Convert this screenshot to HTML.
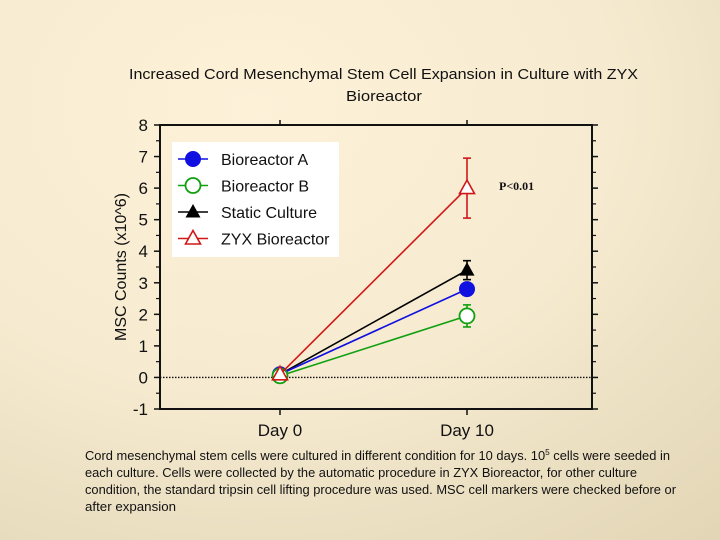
<!DOCTYPE html>
<html><head><meta charset="utf-8"><style>
html,body{margin:0;padding:0;width:720px;height:540px;overflow:hidden}
body{background:radial-gradient(ellipse 900px 700px at 35% 20%,#fdf1d8 0%,#f6ead0 40%,#e2d6b6 80%,#d6c9a6 100%);font-family:"Liberation Sans",sans-serif}
svg{position:absolute;left:0;top:0}
</style></head><body>
<svg id="chart" width="720" height="540">
<g font-family="Liberation Sans, sans-serif" font-size="15" fill="#111">
<text x="129" y="79" textLength="509" lengthAdjust="spacingAndGlyphs">Increased Cord Mesenchymal Stem Cell Expansion in Culture with ZYX</text>
<text x="384" y="101" text-anchor="middle" textLength="76" lengthAdjust="spacingAndGlyphs">Bioreactor</text>
</g>
<g font-size="12.5" fill="#111">
<text x="85" y="460" textLength="585" lengthAdjust="spacingAndGlyphs">Cord mesenchymal stem cells were cultured in different condition for 10 days. 10<tspan font-size="8" dy="-5">5</tspan><tspan dy="5"> cells were seeded in</tspan></text>
<text x="85" y="477" textLength="552" lengthAdjust="spacingAndGlyphs">each culture. Cells were collected by the automatic procedure in ZYX Bioreactor, for other culture</text>
<text x="85" y="494" textLength="591" lengthAdjust="spacingAndGlyphs">condition, the standard tripsin cell lifting procedure was used. MSC cell markers were checked before or</text>
<text x="85" y="511" textLength="91" lengthAdjust="spacingAndGlyphs">after  expansion</text>
</g>
<g id="plot"></g>
</svg>
<script>
const categories=["Day 0","Day 10"];
const seriesNames=["Bioreactor A","Bioreactor B","Static Culture","ZYX Bioreactor"];
const valuesA=[0.1,2.8];
const valuesB=[0.05,1.95];
const valuesStatic=[0.1,3.4];
const valuesZYX=[0.1,6.0];
const errA=[0,0];
const errB=[0,0.35];
const errStatic=[0,0.3];
const errZYX=[0,0.95];
const yTicks=[-1,0,1,2,3,4,5,6,7,8];

const L=160,R=592,T=125,B=409,ymin=-1,ymax=8;
const xPos=[280,467];
const x=i=>xPos[i];
const y=v=>B-(v-ymin)/(ymax-ymin)*(B-T);
const NS="http://www.w3.org/2000/svg";
const plot=document.getElementById('plot');
function mk(tag,attrs,parent){const e=document.createElementNS(NS,tag);for(const k in attrs)e.setAttribute(k,attrs[k]);(parent||plot).appendChild(e);return e;}

const frame=mk('rect',{x:L,y:T,width:R-L,height:B-T,fill:'none',stroke:'#111','stroke-width':2});


const zl=mk('line',{x1:L,x2:R,y1:y(0),y2:y(0),stroke:'#111','stroke-width':1.3,'stroke-dasharray':'1.5,1.5'});



yTicks.forEach(t=>{
  const yy=y(t);
  mk('line',{x1:L-6,x2:L,y1:yy,y2:yy,stroke:'#111','stroke-width':1.5});
  mk('line',{x1:R,x2:R+6,y1:yy,y2:yy,stroke:'#111','stroke-width':1.5});
  if(t<ymax){const ym=y(t+0.5);
    mk('line',{x1:L-4,x2:L,y1:ym,y2:ym,stroke:'#111','stroke-width':1.2});
    mk('line',{x1:R,x2:R+4,y1:ym,y2:ym,stroke:'#111','stroke-width':1.2});}
  const lbl=mk('text',{x:L-12,y:yy+6,'text-anchor':'end','font-size':17,fill:'#111'});
  lbl.textContent=t;
  
  
});
categories.forEach((c,i)=>{
  mk('line',{x1:x(i),x2:x(i),y1:B,y2:B+6,stroke:'#111','stroke-width':1.5});
  mk('line',{x1:x(i),x2:x(i),y1:T-5,y2:T,stroke:'#111','stroke-width':1.5});
  const lbl=mk('text',{x:x(i),y:B+27,'text-anchor':'middle','font-size':17,fill:'#111'});
  lbl.textContent=c;
  
  
});
const yt=mk('text',{x:0,y:0,transform:'translate(126,'+((T+B)/2)+') rotate(-90)','text-anchor':'middle','font-size':16,fill:'#111'});
yt.textContent='MSC Counts (x10^6)';



function marker(type,cx,cy,color,g){
  if(type==='fc') mk('circle',{cx,cy,r:7.5,fill:color,stroke:color},g);
  if(type==='oc') mk('circle',{cx,cy,r:7.5,fill:'#fff',stroke:color,'stroke-width':1.8},g);
  if(type==='ft') mk('polygon',{points:`${cx},${cy-8} ${cx-7.5},${cy+5.5} ${cx+7.5},${cy+5.5}`,fill:color},g);
  if(type==='ot') mk('polygon',{points:`${cx},${cy-8} ${cx-7.5},${cy+5.5} ${cx+7.5},${cy+5.5}`,fill:'#fff',stroke:color,'stroke-width':1.6},g);
}
const series=[
 {name:'static',vals:valuesStatic,err:errStatic,color:'#000',m:'ft'},
 {name:'bioreactor-a',vals:valuesA,err:errA,color:'#1010e0',m:'fc'},
 {name:'bioreactor-b',vals:valuesB,err:errB,color:'#10a010',m:'oc'},
 {name:'zyx',vals:valuesZYX,err:errZYX,color:'#d01818',m:'ot'}
];
series.forEach(s=>{
  const g=mk('g',{});
  
  
  mk('polyline',{points:s.vals.map((v,i)=>x(i)+','+y(v)).join(' '),fill:'none',stroke:s.color,'stroke-width':1.6},g);
  s.vals.forEach((v,i)=>{
    if(s.err[i]>0){
      const y1=y(v+s.err[i]),y2=y(v-s.err[i]);
      mk('line',{x1:x(i),x2:x(i),y1,y2,stroke:s.color,'stroke-width':1.6},g);
      mk('line',{x1:x(i)-4,x2:x(i)+4,y1,y2:y1,stroke:s.color,'stroke-width':1.6},g);
      mk('line',{x1:x(i)-4,x2:x(i)+4,y1:y2,y2,stroke:s.color,'stroke-width':1.6},g);
    }
  });
  s.vals.forEach((v,i)=>marker(s.m,x(i),y(v),s.color,g));
});
const pv=mk('text',{x:499,y:190,'font-size':12,fill:'#111','font-weight':'bold','font-family':'Liberation Serif, serif'});
pv.textContent='P<0.01';



const lg=mk('g',{});


mk('rect',{x:172,y:142,width:167,height:115,fill:'#fff'},lg);
const legItems=[['fc','#1010e0'],['oc','#10a010'],['ft','#000'],['ot','#d01818']];
legItems.forEach((it,i)=>{
  const cy=159+i*26.5;
  const e=mk('g',{},lg);
  
  
  mk('line',{x1:178,x2:208,y1:cy,y2:cy,stroke:it[1],'stroke-width':1.6},e);
  marker(it[0],193,cy,it[1],e);
  const t=mk('text',{x:221,y:cy+6,'font-size':16,fill:'#111'},e);
  t.textContent=seriesNames[i];
});
</script>
</body></html>
